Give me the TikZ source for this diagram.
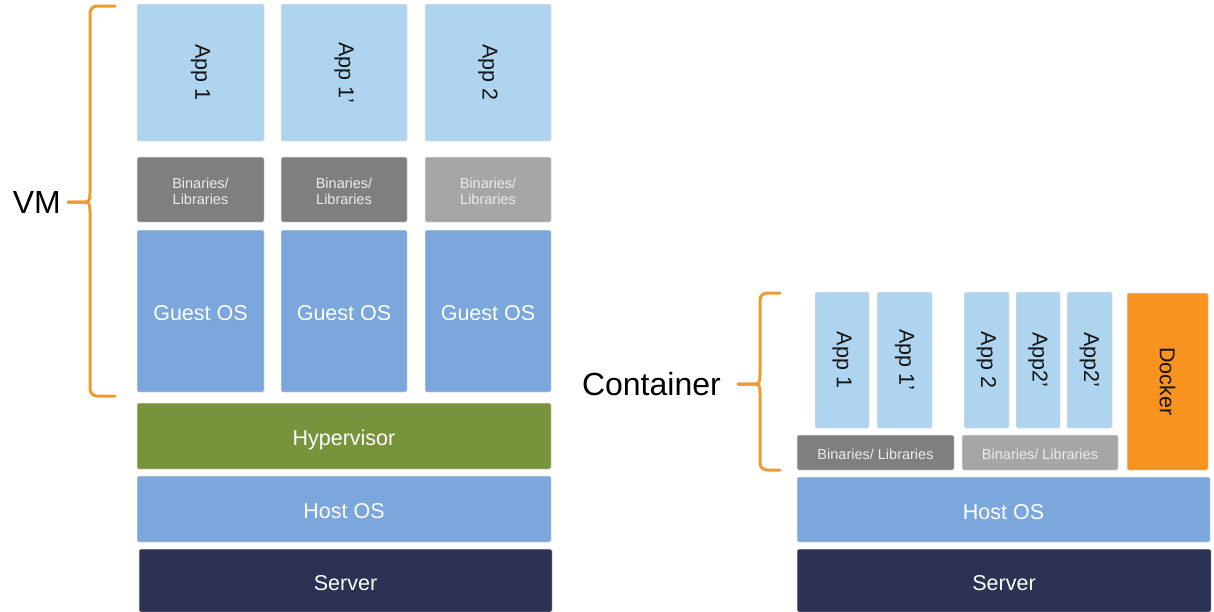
\documentclass[tikz,border=0pt]{standalone}
\usepackage{fontspec}
\setmainfont{Liberation Sans}
\usepackage{graphicx}

\definecolor{appblue}{HTML}{AFD4F0}
\definecolor{osblue}{HTML}{7BA7DD}
\definecolor{bindark}{HTML}{7F7F7F}
\definecolor{binlight}{HTML}{A6A6A6}
\definecolor{hypgreen}{HTML}{77933C}
\definecolor{servernavy}{HTML}{2B3253}
\definecolor{dockerorange}{HTML}{F7931E}
\definecolor{braceorange}{HTML}{F19A30}

% a block given by its corners (x1,y1) and (x2,y2): name, x1, y1, x2, y2, style, text
\newcommand\blk[7]{%
  \node[#6, minimum width={(#4)-(#2)}, minimum height={(#5)-(#3)}]
    (#1) at ({((#2)+(#4))/2},{((#3)+(#5))/2}) {#7};}
% vertical text reading top to bottom
\newcommand\vtxt[1]{\rotatebox{-90}{#1}}
% move text down inside its block without changing the block's centring
\newcommand\sinktext[2]{\raisebox{-#1}[\height][\depth]{#2}}
% two-line label, set a little low in its block
\newcommand\twoline[2]{\sinktext{4pt}{\begin{tabular}{@{}c@{}}#1\\#2\end{tabular}}}
% square brace: spine x, top y, bottom y, middle y, tip x, tail x
\newcommand\sqbrace[6]{%
  \draw[bracestyle]
    (#5,#2) -- ({#1+7},#2) to[out=180,in=90] (#1,{#2+7})
    -- (#1,{#4-9}) to[out=270,in=0] ({#1-4},#4) -- (#6,#4);
  \draw[bracestyle]
    (#6,#4) -- ({#1-4},#4) to[out=0,in=90] (#1,{#4+9})
    -- (#1,{#3-7}) to[out=270,in=180] ({#1+7},#3) -- (#5,#3);}

\tikzset{
  layer/.style={rounded corners=1.5pt, draw=black!12, line width=0.5pt,
    inner sep=0pt, outer sep=0pt, text=white,
    font=\fontsize{21.5}{24}\selectfont},
  flat/.style={text height=19.5pt, text depth=0pt},
  app/.style={layer, fill=appblue, text=black!92},
  bin/.style={layer, text=white!92!black,
    font=\fontsize{14.5}{16}\selectfont},
  bindk/.style={bin, fill=bindark},
  binlt/.style={bin, fill=binlight},
  guest/.style={layer, flat, fill=osblue},
  host/.style={layer, flat, fill=osblue},
  hyper/.style={layer, flat, fill=hypgreen},
  server/.style={layer, flat, fill=servernavy},
  docker/.style={layer, fill=dockerorange, text=black!92},
  bracestyle/.style={draw=braceorange, line width=3pt, line join=round, line cap=round},
  biglabel/.style={font=\fontsize{32}{36}\selectfont, text=black, inner sep=0pt}
}

\begin{document}
\begin{tikzpicture}[x=1pt, y=-1pt]
\useasboundingbox (0,0) rectangle (1214,611);
\fill[white] (0,0) rectangle (1214,611);

% ---------- virtual machines ----------
\blk{appA}{137}{4}{264}{141}{app}{\vtxt{App 1}}
\blk{appB}{281}{4}{407}{141}{app}{\vtxt{App 1’}}
\blk{appC}{425}{4}{551}{141}{app}{\vtxt{App 2}}

\blk{binA}{137}{157}{264}{222}{bindk}{\twoline{Binaries/}{Libraries}}
\blk{binB}{281}{157}{407}{222}{bindk}{\twoline{Binaries/}{Libraries}}
\blk{binC}{425}{157}{551}{222}{binlt}{\twoline{Binaries/}{Libraries}}

\blk{gosA}{137}{230}{264}{392}{guest}{Guest OS}
\blk{gosB}{281}{230}{407}{392}{guest}{Guest OS}
\blk{gosC}{425}{230}{551}{392}{guest}{Guest OS}

\blk{hyp}{137}{403}{551}{469}{hyper}{Hypervisor}
\blk{hostL}{137}{476}{551}{542}{host}{Host OS}
\blk{servL}{139}{549}{552}{612}{server}{Server}

\sqbrace{90}{6}{396}{202}{115}{68}
\node[biglabel, anchor=east] (vm) at (61,202) {VM};

% ---------- containers ----------
\blk{cApp1}{815}{292}{869}{428}{app}{\vtxt{App 1}}
\blk{cApp1b}{877}{292}{932}{428}{app}{\vtxt{App 1’}}
\blk{cApp2}{964}{292}{1009}{428}{app}{\vtxt{App 2}}
\blk{cApp2b}{1016}{292}{1060}{428}{app}{\vtxt{App2’}}
\blk{cApp2c}{1067}{292}{1112}{428}{app}{\vtxt{App2’}}
\blk{docker}{1127}{293}{1208}{470}{docker}{\vtxt{Docker}}

\blk{cBinA}{797}{435}{954}{470}{bindk}{\sinktext{2pt}{Binaries/ Libraries}}
\blk{cBinB}{962}{435}{1118}{470}{binlt}{\sinktext{2pt}{Binaries/ Libraries}}

\blk{hostR}{797}{477}{1210}{542}{host}{Host OS}
\blk{servR}{797}{549}{1211}{612}{server}{Server}

\sqbrace{760}{293}{470}{384}{780}{738}
\node[biglabel, anchor=east] (ctr) at (721,384) {Container};
\end{tikzpicture}
\end{document}
